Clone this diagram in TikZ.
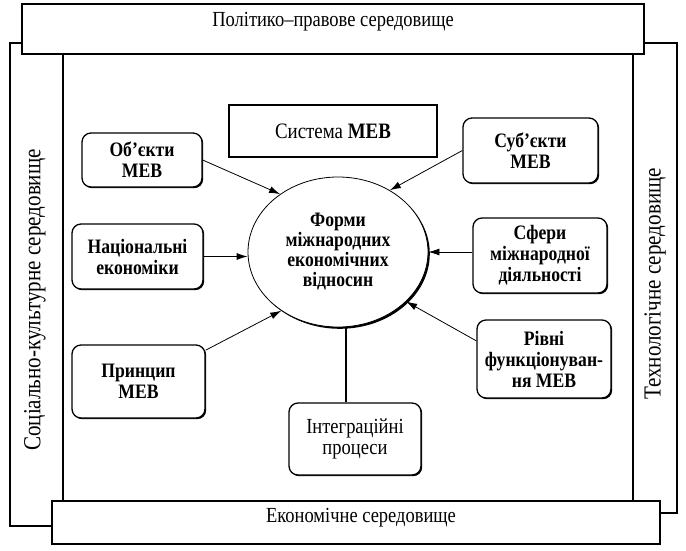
\documentclass[tikz,border=0pt]{standalone}
\usepackage{fontspec}
\setmainfont{Liberation Serif}
\newfontfamily\condfont[FakeStretch=0.86]{Liberation Serif}
\usetikzlibrary{shapes.geometric,shadows,arrows.meta}

\begin{document}
\begin{tikzpicture}[x=1pt,y=-1pt]
  \tikzstyle{block}=[draw=black,line width=1.3pt,fill=white,rounded corners=9pt,align=center,inner sep=2pt,font=\condfont\fontsize{20.5}{21}\selectfont\bfseries,drop shadow={shadow xshift=1.2pt,shadow yshift=-1.2pt,fill=black,opacity=1}];
  \tikzstyle{panel}=[draw=black,line width=1.5pt,fill=white]
  \tikzstyle{envtext}=[font=\condfont\fontsize{21.5}{22}\selectfont]
  \tikzstyle{sidetext}=[font=\condfont\fontsize{24.5}{25}\selectfont,rotate=90]
  \tikzstyle{arr}=[line width=0.8pt,-{Latex[length=11pt,width=7pt]}]

  \useasboundingbox (0,0) rectangle (686,550);

  % side panels
  \draw[panel] (10,43) rectangle (63,526);
  \draw[panel] (633,43) rectangle (677,513);
  \node[sidetext] (soc) at (35,300) {Соціально-культурне середовище};
  \node[sidetext] (tech) at (655,284) {Технологічне середовище};

  % top and bottom panels
  \draw[panel] (22,4) rectangle (644,54);
  \draw[panel] (52,501) rectangle (660,544);
  \node[envtext] (pol) at (333,22) {Політико–правове середовище};
  \node[envtext] (eco) at (361,518) {Економічне середовище};

  \node[draw,fill=white,line width=1.3pt,minimum width=208pt,minimum height=52pt,font=\condfont\fontsize{22}{22}\selectfont,drop shadow={shadow xshift=1pt,shadow yshift=-1pt,fill=black,opacity=1}] (sys) at (333,131) {Система \textbf{МЕВ}};

  \node[ellipse,draw,fill=white,line width=0.8pt,minimum width=180pt,minimum height=150pt,inner sep=0pt,align=center,font=\condfont\fontsize{20.5}{20}\selectfont\bfseries,drop shadow={shadow xshift=1.8pt,shadow yshift=-1.8pt,fill=black,opacity=1}] (form) at (338,252) {Форми\\міжнародних\\економічних\\відносин};

  \node[block,minimum width=120pt,minimum height=54pt] (obj) at (142,160) {Об’єкти\\МЕВ};
  \node[block,minimum width=131pt,minimum height=65pt] (nat) at (137.5,256.5) {Національні\\економіки};
  \node[block,minimum width=133pt,minimum height=73pt] (prin) at (138.5,381.5) {Принцип\\МЕВ};
  \node[block,minimum width=132pt,minimum height=72pt,font=\condfont\fontsize{21.5}{21}\selectfont] (integ) at (355,439) {Інтеграційні\\процеси};
  \node[block,minimum width=135pt,minimum height=65pt] (subj) at (530.5,150.5) {Суб’єкти\\МЕВ};
  \node[block,minimum width=134pt,minimum height=75pt] (sfer) at (540,255.5) {Сфери\\міжнародної\\діяльності};
  \node[block,minimum width=134pt,minimum height=78pt] (rivn) at (544,359) {Рівні\\функціонуван-\\ня МЕВ};

  % connectors
  \draw[arr] (obj.east) -- (form.135);
  \draw[arr] (nat.east) -- (nat.east -| form.west);
  \draw[arr] (prin.25) -- (form.226);
  \draw[arr] (subj.west) -- (form.50);
  \draw[arr] (sfer.west |- form.east) -- (form.east);
  \draw[arr] (rivn.165) -- (form.324);
  \draw[line width=1.5pt] (form.-84) -- (form.-84 |- integ.north);

\end{tikzpicture}
\end{document}
